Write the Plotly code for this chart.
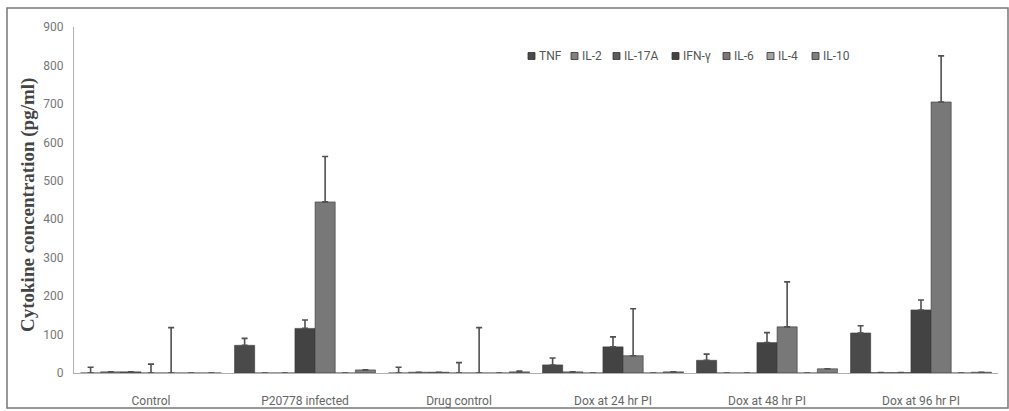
import plotly.graph_objects as go

# Treatment groups on the x axis
groups = ["Control", "P20778 infected", "Drug control",
          "Dox at 24 hr PI", "Dox at 48 hr PI", "Dox at 96 hr PI"]

# Mean cytokine concentrations (pg/ml) per group
tnf   = [0, 72, 0, 21, 33, 104]
il2   = [3, 0, 2, 3, 0, 1]
il17a = [3, 0, 2, 0, 0, 1]
ifng  = [0, 116, 0, 68, 79, 164]
il6   = [0, 445, 0, 45, 120, 705]
il4   = [0, 0, 0, 0, 0, 0]
il10  = [0, 8, 3, 3, 11, 2]

# Upper error (SD) per group
tnf_err   = [15, 18, 15, 18, 16, 19]
il2_err   = [0, 0, 0, 0, 0, 0]
il17a_err = [0, 0, 0, 0, 0, 0]
ifng_err  = [23, 22, 27, 26, 26, 26]
il6_err   = [118, 118, 118, 122, 117, 120]
il4_err   = [0, 0, 0, 0, 0, 0]
il10_err  = [0, 0, 2, 0, 0, 0]

series = [
    ("TNF",    tnf,   tnf_err,   "#4a4a4a"),
    ("IL-2",   il2,   il2_err,   "#808080"),
    ("IL-17A", il17a, il17a_err, "#5c5c5c"),
    ("IFN-γ",  ifng,  ifng_err,  "#434343"),
    ("IL-6",   il6,   il6_err,   "#787878"),
    ("IL-4",   il4,   il4_err,   "#a3a3a3"),
    ("IL-10",  il10,  il10_err,  "#7e7e7e"),
]

FONT = "Roboto, Lato, Arial, sans-serif"

fig = go.Figure()
for name, vals, errs, col in series:
    fig.add_trace(go.Bar(
        name=name, x=groups, y=vals,
        marker=dict(color=col, line=dict(color="#3a3a3a", width=0.6)),
        error_y=dict(type="data", symmetric=False, array=errs,
                     arrayminus=[0] * len(errs),
                     color="#505050", thickness=1.6, width=3),
        showlegend=False,
    ))

# Plot-area geometry in pixels (used to place the legend and frame)
W, H = 1009, 411
L, R, T, B = 74, 11, 27, 38
pw, ph = W - L - R, H - T - B


def px(x):
    return (x - L) / pw


def py(y):
    return (H - B - y) / ph


# Horizontal legend drawn as small squares with labels
legend_items = [("TNF", 528), ("IL-2", 571), ("IL-17A", 613), ("IFN-γ", 672),
                ("IL-6", 723), ("IL-4", 767), ("IL-10", 812)]
shapes = []
annotations = []
ly = 56
for (name, x0), (_, _, _, col) in zip(legend_items, series):
    shapes.append(dict(type="rect", xref="paper", yref="paper",
                       x0=px(x0), x1=px(x0 + 7), y0=py(ly + 3.5), y1=py(ly - 3.5),
                       fillcolor=col, line=dict(color="#333333", width=0.8)))
    annotations.append(dict(text=name, xref="paper", yref="paper",
                            x=px(x0 + 9), y=py(ly), xanchor="left", yanchor="middle",
                            showarrow=False,
                            font=dict(family=FONT, size=12, color="#555555")))

# Outer frame around the figure
shapes.append(dict(type="rect", xref="paper", yref="paper",
                   x0=px(7), x1=px(1008), y0=py(408), y1=py(8),
                   line=dict(color="#777777", width=1.5), fillcolor="rgba(0,0,0,0)",
                   layer="below"))

# Y-axis title
annotations.append(dict(text="<b>Cytokine concentration (pg/ml)</b>",
                        xref="paper", yref="paper", x=px(28), y=py(205),
                        xanchor="center", yanchor="middle", textangle=-90,
                        showarrow=False,
                        font=dict(family="Liberation Serif, Times New Roman, serif",
                                  size=19, color="#444444")))

fig.update_layout(
    width=W, height=H,
    margin=dict(l=L, r=R, t=T, b=B, autoexpand=False),
    paper_bgcolor="white", plot_bgcolor="white",
    barmode="group", bargap=0.085, bargroupgap=0,
    shapes=shapes, annotations=annotations,
    showlegend=False,
)
fig.update_xaxes(
    showline=True, linecolor="#b0b0b0", linewidth=1.2,
    showgrid=False, ticks="", ticklabelstandoff=16,
    tickfont=dict(family=FONT, size=12, color="#666666"),
)
fig.update_yaxes(
    range=[0, 900], tickvals=list(range(0, 901, 100)),
    showline=True, linecolor="#b0b0b0", linewidth=1.2,
    showgrid=False, ticks="", ticklabelstandoff=7, zeroline=False,
    tickfont=dict(family=FONT, size=12, color="#777777"),
)

fig.write_html("out.html")
